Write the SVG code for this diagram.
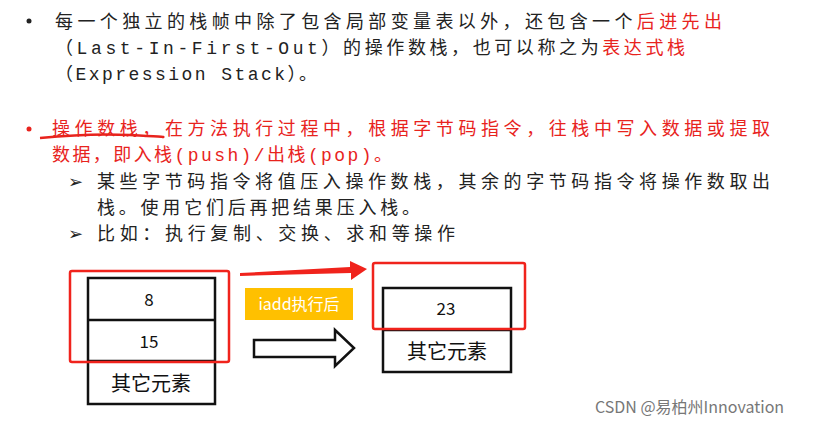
<svg xmlns="http://www.w3.org/2000/svg" width="832" height="426" viewBox="0 0 832 426">
<style>
.t{font-family:"Noto Sans CJK SC","Liberation Sans",sans-serif;font-size:18px;fill:#222}
.r{fill:#e8231d}
.m{font-family:"Liberation Mono","Noto Sans CJK SC",monospace}
.box{fill:#fff;stroke:#111;stroke-width:2.5}
.red{fill:none;stroke:#f0231c;stroke-width:2.5}
.n{font-family:"Noto Sans CJK SC","Liberation Sans",sans-serif;font-size:17px;fill:#111;text-anchor:middle}
.c{font-family:"Noto Sans CJK SC",sans-serif;font-size:20px;fill:#111;text-anchor:middle}
</style>
<rect width="832" height="426" fill="#fff"/>
<g id="text">
<circle cx="29" cy="21" r="2.5" fill="#222"/>
<text class="t" x="55" y="28" textLength="667" lengthAdjust="spacing">每一个独立的栈帧中除了包含局部变量表以外，还包含一个<tspan class="r">后进先出</tspan></text>
<text class="t" x="55" y="54" textLength="630" lengthAdjust="spacing"><tspan class="m">（Last-In-First-Out）</tspan>的操作数栈，也可以称之为<tspan class="r">表达式栈</tspan></text>
<text class="t" x="55" y="80" textLength="262" lengthAdjust="spacing"><tspan class="m">（Expression Stack）</tspan>。</text>
<circle cx="29" cy="129" r="2.5" fill="#e8231d"/>
<text class="t r" x="52" y="135" textLength="718" lengthAdjust="spacing">操作数栈，在方法执行过程中，根据字节码指令，往栈中写入数据或提取</text>
<text class="t r" x="52" y="161" textLength="340" lengthAdjust="spacing">数据，即入栈<tspan class="m">(push)/</tspan>出栈<tspan class="m">(pop)</tspan>。</text>
<path d="M40 138 Q90 133 130 135 T162 137" fill="none" stroke="#e8231d" stroke-width="2.5"/>
<text class="t" x="68" y="188" font-size="16">➢</text>
<text class="t" x="97" y="188" textLength="673" lengthAdjust="spacing">某些字节码指令将值压入操作数栈，其余的字节码指令将操作数取出</text>
<text class="t" x="97" y="214" textLength="323" lengthAdjust="spacing">栈。使用它们后再把结果压入栈。</text>
<text class="t" x="68" y="240" font-size="16">➢</text>
<text class="t" x="97" y="240" textLength="358" lengthAdjust="spacing">比如：执行复制、交换、求和等操作</text>
</g>
<g id="left-stack">
<rect class="box" x="88" y="278" width="127" height="126"/>
<line x1="88" y1="320" x2="215" y2="320" stroke="#111" stroke-width="2.5"/>
<line x1="88" y1="361" x2="215" y2="361" stroke="#111" stroke-width="2.5"/>
<text class="n" x="149" y="306">8</text>
<text class="n" x="149" y="348">15</text>
<text class="c" x="151" y="391">其它元素</text>
<rect class="red" x="70" y="271" width="159" height="91" rx="2"/>
</g>
<g id="label">
<rect x="245" y="288" width="108" height="32" fill="#ffc000"/>
<text x="299" y="310" font-family="Noto Sans CJK SC,sans-serif" font-size="16" fill="#fff" text-anchor="middle">iadd执行后</text>
</g>
<g id="right-stack">
<rect class="box" x="383" y="288" width="128" height="84"/>
<line x1="383" y1="330" x2="511" y2="330" stroke="#111" stroke-width="2.5"/>
<text class="n" x="446" y="315">23</text>
<text class="c" x="447" y="359">其它元素</text>
<rect class="red" x="373" y="263" width="152" height="66" rx="2"/>
</g>
<g id="connectors">
<polygon points="240,273 350,267 350,261 367,269 351,280 351,273 240,276" fill="#f0231c"/>
<polygon points="254,340 335,340 335,330 354,348 335,366 335,357 254,357" fill="#fff" stroke="#111" stroke-width="2.5"/>
</g>
<text x="595" y="413" font-family="Noto Sans CJK SC,sans-serif" font-size="16" fill="#777">CSDN @易柏州Innovation</text>
</svg>
